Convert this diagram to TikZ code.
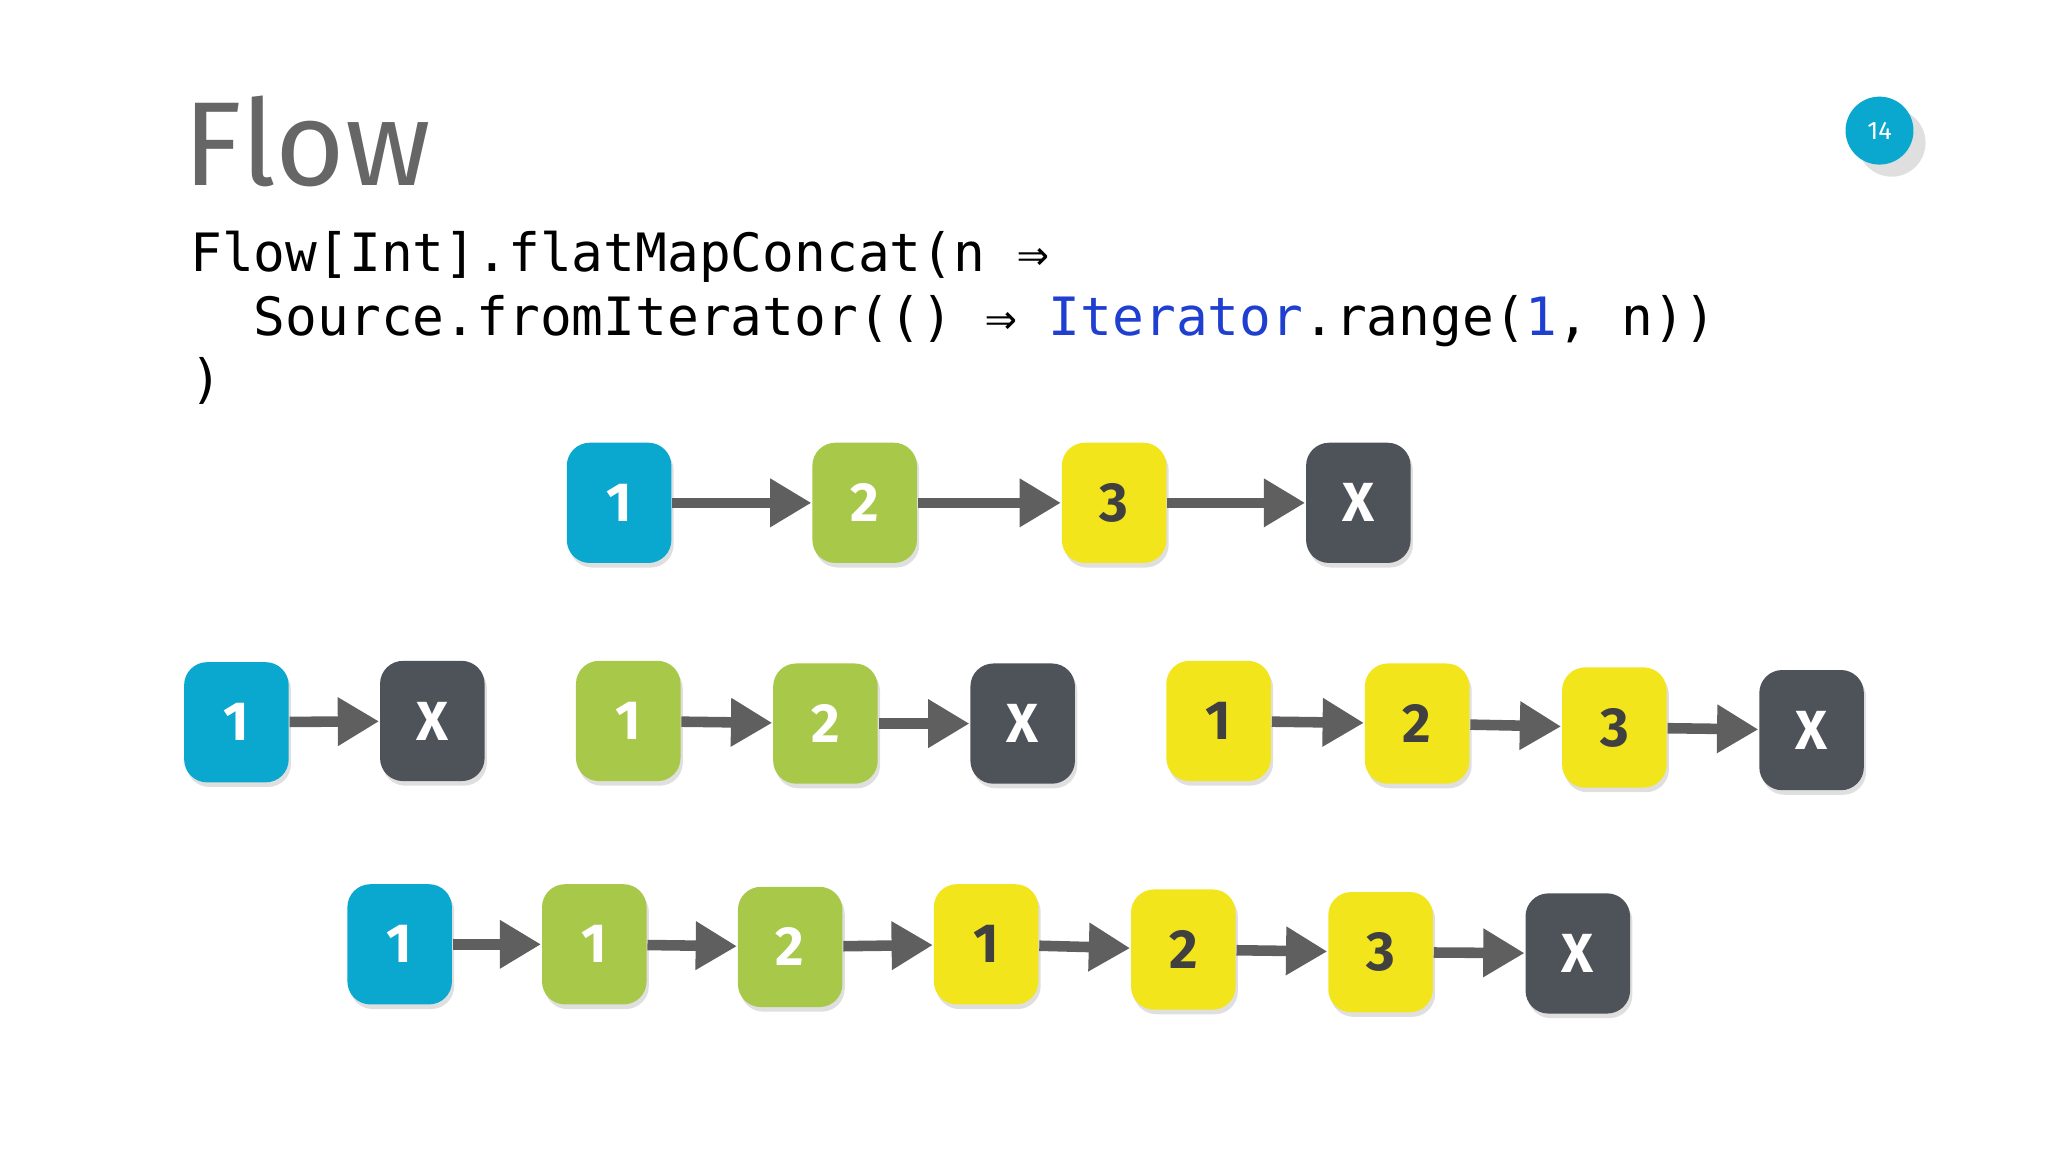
\documentclass[tikz,border=0pt]{standalone}
\usepackage{fontspec}
\setmainfont{Fira Sans}
\newfontfamily\codefont{DejaVu Sans Mono}
\usetikzlibrary{arrows.meta,shadows}
\definecolor{cblue}{HTML}{0AA8CF}
\definecolor{cgreen}{HTML}{A8C84A}
\definecolor{cyel}{HTML}{F2E51C}
\definecolor{cdark}{HTML}{4E5259}
\definecolor{carr}{HTML}{5F5F5F}
\definecolor{ctitle}{HTML}{666666}
\definecolor{ckw}{HTML}{1F3FD0}
\begin{document}
\begin{tikzpicture}[x=0.01cm,y=-0.01cm,
  box/.style={rounded corners=5pt,minimum width=0.8cm,minimum height=0.92cm,inner sep=0pt,
    font=\fontsize{12}{12}\selectfont\bfseries,text=white,
    drop shadow={opacity=0.25,shadow xshift=0.5pt,shadow yshift=-1pt}},
  B/.style={box,fill=cblue},
  G/.style={box,fill=cgreen},
  Y/.style={box,fill=cyel,text=black!75},
  D/.style={box,fill=cdark},
  arr/.style={draw=carr,line width=2.3pt,-{Triangle[length=9pt,width=10pt]}}]
\useasboundingbox (0,0) rectangle (1568,882);
\node[anchor=base west,text=ctitle,font=\fontsize{26}{26}\selectfont,inner sep=0pt] (title) at (140,142) {Flow};
\node[circle,fill=cblue,minimum size=0.52cm,inner sep=0pt,text=white,font=\fontsize{5.5}{5.5}\selectfont,drop shadow={opacity=0.25}] (pg) at (1439,100) {14};
\node[anchor=base west,inner sep=0pt,font=\codefont\fontsize{11.5}{14}\selectfont] (c1) at (145,208) {Flow[Int].flatMapConcat(n ⇒};
\node[anchor=base west,inner sep=0pt,font=\codefont\fontsize{11.5}{14}\selectfont] (c2) at (145,257) {\ \ Source.fromIterator(() ⇒ \textcolor{ckw}{Iterator}.range(\textcolor{ckw}{1}, n))};
\node[anchor=base west,inner sep=0pt,font=\codefont\fontsize{11.5}{14}\selectfont] (c3) at (145,304) {)};
% row 1
\node[B] (a1) at (474,385) {1};
\node[G] (a2) at (662,385) {2};
\node[Y] (a3) at (853,385) {3};
\node[D] (a4) at (1040,385) {X};
\draw[arr] (a1) -- (a2); \draw[arr] (a2) -- (a3); \draw[arr] (a3) -- (a4);
% row 2
\node[B] (b1) at (181,553) {1};
\node[D] (b2) at (331,552) {X};
\node[G] (b3) at (481,552) {1};
\node[G] (b4) at (632,554) {2};
\node[D] (b5) at (783,554) {X};
\node[Y] (b6) at (933,552) {1};
\node[Y] (b7) at (1085,554) {2};
\node[Y] (b8) at (1236,557) {3};
\node[D] (b9) at (1387,559) {X};
\draw[arr] (b1) -- (b2);
\draw[arr] (b3) -- (b4); \draw[arr] (b4) -- (b5);
\draw[arr] (b6) -- (b7); \draw[arr] (b7) -- (b8); \draw[arr] (b8) -- (b9);
% row 3
\node[B] (d1) at (306,723) {1};
\node[G] (d2) at (455,723) {1};
\node[G] (d3) at (605,725) {2};
\node[Y] (d4) at (755,723) {1};
\node[Y] (d5) at (906,727) {2};
\node[Y] (d6) at (1057,729) {3};
\node[D] (d7) at (1208,730) {X};
\draw[arr] (d1) -- (d2); \draw[arr] (d2) -- (d3); \draw[arr] (d3) -- (d4);
\draw[arr] (d4) -- (d5); \draw[arr] (d5) -- (d6); \draw[arr] (d6) -- (d7);
\end{tikzpicture}
\end{document}
